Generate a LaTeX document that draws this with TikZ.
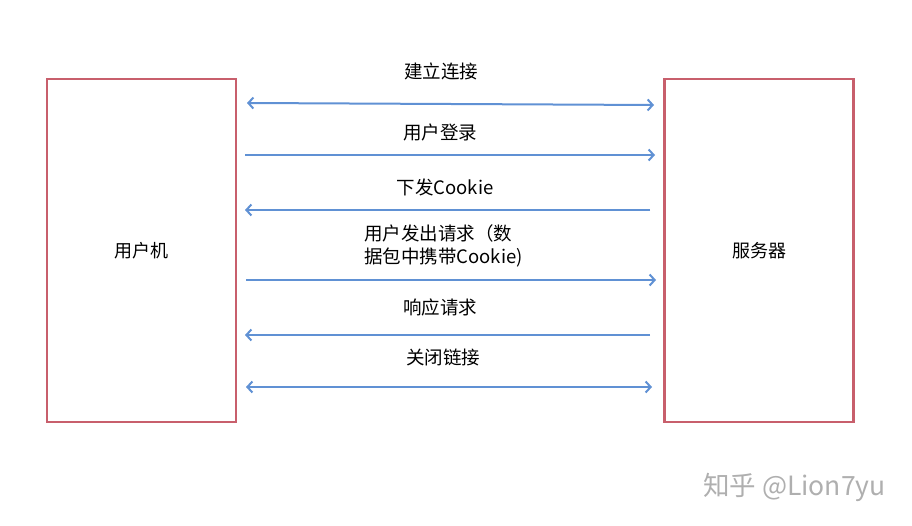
\documentclass[tikz,border=0pt]{standalone}
\usepackage{fontspec}
\setmainfont{Noto Sans CJK SC}
\usetikzlibrary{arrows.meta}
\definecolor{boxred}{RGB}{200,95,108}
\definecolor{arrblue}{RGB}{96,145,212}
\definecolor{wmgray}{RGB}{175,175,175}
\begin{document}
\begin{tikzpicture}[x=1pt,y=-1pt,
  hostbox/.style={draw=boxred,line width=2.2pt,minimum width=189pt,minimum height=343pt,inner sep=0pt,font=\fontsize{18}{22}\selectfont},
  lbl/.style={font=\fontsize{18.5}{23}\selectfont,inner sep=0pt,anchor=center},
  msg/.style={draw=arrblue,line width=2pt,-{Straight Barb[length=5pt,width=11pt,line width=2pt]}},
  dmsg/.style={draw=arrblue,line width=2pt,{Straight Barb[length=5pt,width=11pt,line width=2pt]}-{Straight Barb[length=5pt,width=11pt,line width=2pt]}}]
\useasboundingbox (0,0) rectangle (912,526);
\node[hostbox] (client) at (141.5,250.5) {用户机};
\node[hostbox] (server) at (759,250.5) {服务器};
% endpoints
\coordinate (a1) at (247,103); \coordinate (b1) at (654,105);
\coordinate (a2) at (245,155); \coordinate (b2) at (655,155);
\coordinate (a3) at (245,210); \coordinate (b3) at (650,210);
\coordinate (a4) at (246,280); \coordinate (b4) at (656,280);
\coordinate (a5) at (245,335); \coordinate (b5) at (650,335);
\coordinate (a6) at (246,387); \coordinate (b6) at (652,387);
\draw[dmsg] (a1) -- (b1);
\draw[msg] (a2) -- (b2);
\draw[msg] (b3) -- (a3);
\draw[msg] (a4) -- (b4);
\draw[msg] (b5) -- (a5);
\draw[dmsg] (a6) -- (b6);
\node[lbl] (t1) at (441,71) {建立连接};
\node[lbl] (t2) at (440,132) {用户登录};
\node[lbl] (t3) at (445,187) {下发Cookie};
\node[lbl,anchor=west,align=left] (t4) at (364,246) {用户发出请求（数\\据包中携带Cookie)};
\node[lbl] (t5) at (440,307) {响应请求};
\node[lbl] (t6) at (443,357) {关闭链接};
\node[font=\fontsize{26.5}{30}\selectfont,text=wmgray,inner sep=0pt,anchor=west] (wm) at (703,487) {知乎 @Lion7yu};
\end{tikzpicture}
\end{document}
